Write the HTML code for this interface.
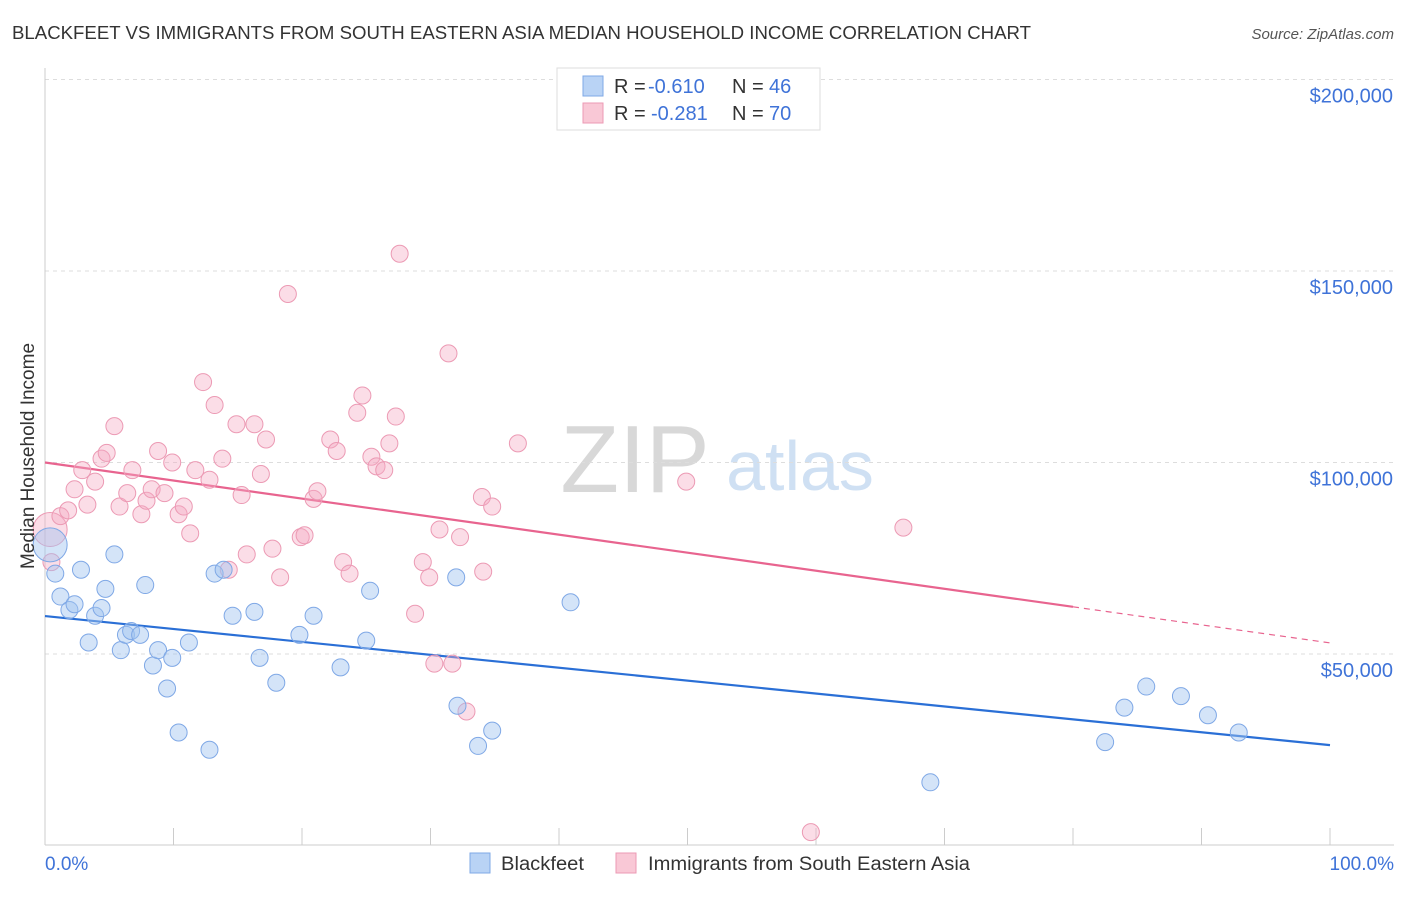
<!DOCTYPE html>
<html><head><meta charset="utf-8"><style>
body{margin:0;background:#fff;font-family:"Liberation Sans",sans-serif;}
svg text{font-family:"Liberation Sans",sans-serif;}
</style></head><body>
<svg id="chart" width="1406" height="892">
<text x="12" y="39" font-size="18" fill="#333" textLength="1019" lengthAdjust="spacingAndGlyphs">BLACKFEET VS IMMIGRANTS FROM SOUTH EASTERN ASIA MEDIAN HOUSEHOLD INCOME CORRELATION CHART</text>
<text x="1394" y="39" font-size="15" fill="#555" font-style="italic" text-anchor="end">Source: ZipAtlas.com</text>
<text x="635" y="492" font-size="96" fill="#d8d8d8" font-family="Liberation Serif" text-anchor="middle">ZIP</text>
<text x="800" y="490" font-size="70" fill="#cfe0f3" text-anchor="middle">atlas</text>
<g id="grid"></g><g id="axes"></g><g id="lines"></g><g id="pts"></g>
<text transform="translate(34,456) rotate(-90)" font-size="19" fill="#333" text-anchor="middle">Median Household Income</text>
<text x="45" y="870" font-size="19" fill="#3f73d8">0.0%</text>
<text x="1394" y="870" font-size="19" fill="#3f73d8" text-anchor="end">100.0%</text>
<g>
<rect x="470" y="853" width="20" height="20" fill="#b9d3f5" stroke="#7fa8e6"/>
<text x="501" y="870" font-size="19" fill="#333" textLength="83" lengthAdjust="spacingAndGlyphs">Blackfeet</text>
<rect x="616" y="853" width="20" height="20" fill="#f9c8d6" stroke="#ec9ab4"/>
<text x="648" y="870" font-size="19" fill="#333" textLength="322" lengthAdjust="spacingAndGlyphs">Immigrants from South Eastern Asia</text>
</g>
<g>
<rect x="557" y="68" width="263" height="62" fill="#fff" stroke="#ddd"/>
<rect x="583" y="76" width="20" height="20" fill="#b9d3f5" stroke="#7fa8e6"/>
<text x="614" y="93" font-size="20" fill="#333">R =</text>
<text x="648" y="93" font-size="20" fill="#3f73d8">-0.610</text>
<text x="732" y="93" font-size="20" fill="#333">N =</text>
<text x="769" y="93" font-size="20" fill="#3f73d8">46</text>
<rect x="583" y="103" width="20" height="20" fill="#f9c8d6" stroke="#ec9ab4"/>
<text x="614" y="120" font-size="20" fill="#333">R =</text>
<text x="651" y="120" font-size="20" fill="#3f73d8">-0.281</text>
<text x="732" y="120" font-size="20" fill="#333">N =</text>
<text x="769" y="120" font-size="20" fill="#3f73d8">70</text>
</g>
</svg>
<script>
const yTicks=[50,100,150,200];
const yTickLabels=["$50,000","$100,000","$150,000","$200,000"];
const xTicks=[0,10,20,30,40,50,60,70,80,90,100];
const blueX=[0.4,0.8,1.2,1.9,2.3,2.8,3.4,3.9,4.4,4.7,5.4,5.9,6.3,6.7,7.4,7.8,8.4,8.8,9.5,9.9,10.4,11.2,12.8,13.2,13.9,14.6,16.3,16.7,18.0,19.8,20.9,23.0,25.0,25.3,32.0,32.1,33.7,34.8,40.9,68.9,82.5,84.0,85.7,88.4,90.5,92.9];
const blueY=[78.5,71,65,61.5,63,72,53,60,62,67,76,51,55,56,55,68,47,51,41,49,29.5,53,25,71,72,60,61,49,42.5,55,60,46.5,53.5,66.5,70,36.5,26,30,63.5,16.5,27,36,41.5,39,34,29.5];
const pinkX=[0.4,0.5,1.2,1.8,2.3,2.9,3.3,3.9,4.4,4.8,5.4,5.8,6.4,6.8,7.5,7.9,8.3,8.8,9.3,9.9,10.4,10.8,11.3,11.7,12.3,12.8,13.2,13.8,14.3,14.9,15.3,15.7,16.3,16.8,17.2,17.7,18.3,18.9,19.9,20.2,20.9,21.2,22.2,22.7,23.2,23.7,24.3,24.7,25.4,25.8,26.4,26.8,27.3,27.6,28.8,29.4,29.9,30.3,30.7,31.4,31.7,32.3,32.8,34.1,34.0,34.8,36.8,49.9,59.6,66.8];
const pinkY=[82.5,74,86,87.5,93,98,89,95,101,102.5,109.5,88.5,92,98,86.5,90,93,103,92,100,86.5,88.5,81.5,98,121,95.5,115,101,72,110,91.5,76,110,97,106,77.5,70,144,80.5,81,90.5,92.5,106,103,74,71,113,117.5,101.5,99,98,105,112,154.5,60.5,74,70,47.5,82.5,128.5,47.5,80.5,35,71.5,91,88.5,105,95,3.5,83];
const blueTrend=[59.9,26.2];
const pinkTrend=[100,52.9];
const NS="http://www.w3.org/2000/svg";
const xs=v=>45+v*12.85;
const ys=v=>845.5-v*3.83;
function mk(tag,attrs,parent){const e=document.createElementNS(NS,tag);for(const k in attrs)e.setAttribute(k,attrs[k]);document.getElementById(parent).appendChild(e);return e;}
yTicks.forEach((t,i)=>{
 const l=mk('line',{x1:45,x2:1394,y1:ys(t),y2:ys(t),stroke:'#ddd','stroke-dasharray':'4,4'},'grid');
 
 
 const tx=mk('text',{x:1393,y:ys(t)+23,'font-size':20,fill:'#3f73d8','text-anchor':'end'},'grid');
 tx.textContent=yTickLabels[i];
 
 
});
const ax=mk('line',{x1:45,x2:45,y1:68,y2:845,stroke:'#ccc'},'axes');


const bx=mk('line',{x1:45,x2:1394,y1:845,y2:845,stroke:'#ccc'},'axes');


xTicks.forEach(t=>{
 const l=mk('line',{x1:xs(t),x2:xs(t),y1:828,y2:845,stroke:'#ccc'},'axes');
 
 
});
const bl=mk('line',{x1:xs(0),y1:ys(blueTrend[0]),x2:xs(100),y2:ys(blueTrend[1]),stroke:'#2a6fd6','stroke-width':2.2},'lines');


const pAt=x=>pinkTrend[0]+(pinkTrend[1]-pinkTrend[0])*x/100;
const pl=mk('line',{x1:xs(0),y1:ys(pAt(0)),x2:xs(80),y2:ys(pAt(80)),stroke:'#e8648f','stroke-width':2.2},'lines');


const pd=mk('line',{x1:xs(80),y1:ys(pAt(80)),x2:xs(100),y2:ys(pAt(100)),stroke:'#e8648f','stroke-width':1.2,'stroke-dasharray':'6,5'},'lines');


pinkX.forEach((x,i)=>{
 const c=mk('circle',{cx:xs(x),cy:ys(pinkY[i]),r:i===0?17:8.5,fill:'rgba(246,170,195,0.4)',stroke:'#ec9ab4','stroke-width':1},'pts');
 
 
});
blueX.forEach((x,i)=>{
 const c=mk('circle',{cx:xs(x),cy:ys(blueY[i]),r:i===0?17:8.5,fill:'rgba(160,195,240,0.45)',stroke:'#7fa8e6','stroke-width':1},'pts');
 
 
});
</script>
</body></html>
